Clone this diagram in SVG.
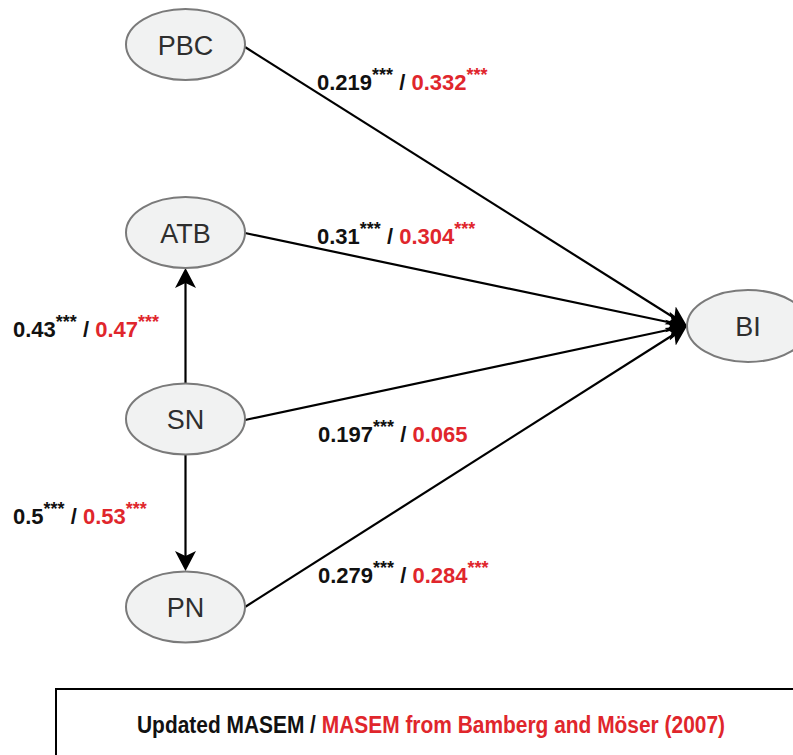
<svg xmlns="http://www.w3.org/2000/svg" width="793" height="755" viewBox="0 0 793 755">
  <style>
    .node ellipse { fill: #f1f2f2; stroke: #7a7a7a; stroke-width: 2; }
    .node text { font-family: "Liberation Sans", Arial, sans-serif; font-size: 27px; fill: #2e2e2e; text-anchor: middle; }
    .edge { stroke: #000; stroke-width: 2.2; fill: none; marker-end: url(#arr); }
    .lbl { font-family: "Liberation Sans", Arial, sans-serif; font-weight: bold; font-size: 22px; fill: #111; }
    .red { fill: #e0262c; }
    .legend { font-family: "Liberation Sans", Arial, sans-serif; font-weight: bold; font-size: 23px; fill: #111; }
  </style>
  <defs>
    <marker id="arr" markerUnits="userSpaceOnUse" viewBox="0 -11 20 22" markerWidth="20" markerHeight="22" refX="15" refY="0" orient="auto">
      <path d="M0,-10.5 L20,0 L0,10.5 L5,0 Z" fill="#000"/>
    </marker>
  </defs>
  <rect width="793" height="755" fill="#fff"/>

  <g id="connectors">
    <line class="edge" x1="245" y1="47" x2="682.8" y2="323.3"/>
    <line class="edge" x1="245" y1="233" x2="682.1" y2="325.0"/>
    <line class="edge" x1="245" y1="420" x2="682.1" y2="327.0"/>
    <line class="edge" x1="245" y1="607" x2="682.8" y2="328.7"/>
    <line class="edge" x1="185.5" y1="383" x2="185.5" y2="273"/>
    <line class="edge" x1="185.5" y1="455" x2="185.5" y2="566"/>
  </g>

  <g id="node-PBC" class="node">
    <ellipse cx="185.5" cy="44.5" rx="59.5" ry="35.5"/>
    <text x="185.5" y="55">PBC</text>
  </g>
  <g id="node-ATB" class="node">
    <ellipse cx="185.5" cy="232.5" rx="59.5" ry="35.5"/>
    <text x="185.5" y="243">ATB</text>
  </g>
  <g id="node-SN" class="node">
    <ellipse cx="185.5" cy="419" rx="59.5" ry="35.5"/>
    <text x="185.5" y="429">SN</text>
  </g>
  <g id="node-PN" class="node">
    <ellipse cx="185.5" cy="607" rx="59.5" ry="35.5"/>
    <text x="185.5" y="617">PN</text>
  </g>
  <g id="node-BI" class="node">
    <ellipse cx="748" cy="326" rx="61" ry="36"/>
    <text x="748" y="336">BI</text>
  </g>

  <g id="labels">
    <text class="lbl" x="317" y="90">0.219<tspan dy="-9" font-size="18">***</tspan><tspan dy="9"> / </tspan><tspan class="red">0.332</tspan><tspan class="red" dy="-9" font-size="18">***</tspan></text>
    <text class="lbl" x="317" y="244">0.31<tspan dy="-9" font-size="18">***</tspan><tspan dy="9"> / </tspan><tspan class="red">0.304</tspan><tspan class="red" dy="-9" font-size="18">***</tspan></text>
    <text class="lbl" x="13" y="337">0.43<tspan dy="-9" font-size="18">***</tspan><tspan dy="9"> / </tspan><tspan class="red">0.47</tspan><tspan class="red" dy="-9" font-size="18">***</tspan></text>
    <text class="lbl" x="318" y="442">0.197<tspan dy="-9" font-size="18">***</tspan><tspan dy="9"> / </tspan><tspan class="red">0.065</tspan></text>
    <text class="lbl" x="13" y="524">0.5<tspan dy="-9" font-size="18">***</tspan><tspan dy="9"> / </tspan><tspan class="red">0.53</tspan><tspan class="red" dy="-9" font-size="18">***</tspan></text>
    <text class="lbl" x="318" y="583">0.279<tspan dy="-9" font-size="18">***</tspan><tspan dy="9"> / </tspan><tspan class="red">0.284</tspan><tspan class="red" dy="-9" font-size="18">***</tspan></text>
  </g>

  <g id="legend">
    <rect x="56" y="689" width="760" height="100" fill="none" stroke="#000" stroke-width="2"/>
    <text class="legend" x="137" y="733" textLength="588" lengthAdjust="spacingAndGlyphs">Updated MASEM / <tspan class="red">MASEM from Bamberg and Möser (2007)</tspan></text>
  </g>
</svg>
